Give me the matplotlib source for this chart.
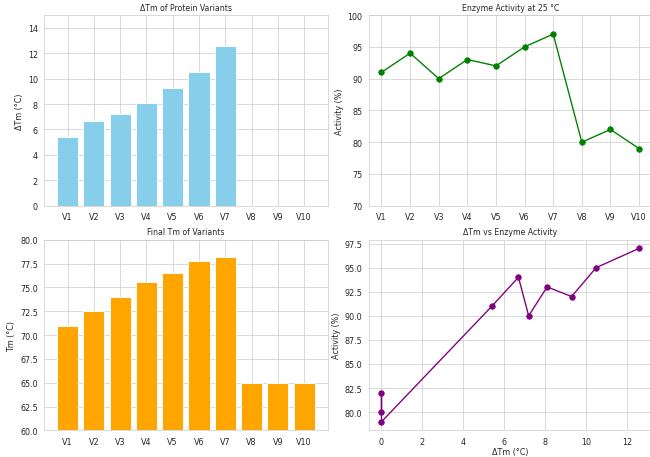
import matplotlib
matplotlib.use('Agg')
import matplotlib.pyplot as plt
import seaborn as sns

variants = ['V1', 'V2', 'V3', 'V4', 'V5', 'V6', 'V7', 'V8', 'V9', 'V10']
delta_tm = [5.4, 6.7, 7.2, 8.1, 9.3, 10.5, 12.6, 0, 0, 0]
activity = [91, 94, 90, 93, 92, 95, 97, 80, 82, 79]
final_tm = [71.0, 72.5, 74.0, 75.6, 76.5, 77.8, 78.2, 65.0, 65.0, 65.0]

sns.set_style('whitegrid')
plt.rcParams.update({
    'axes.titlesize': 8.6,
    'axes.labelsize': 8.8,
    'xtick.labelsize': 8.8,
    'ytick.labelsize': 8.8,
})

fig, axes = plt.subplots(2, 2, figsize=(10, 7.046), dpi=65)
fig.subplots_adjust(left=0.068, right=1.003, top=0.965, bottom=0.058,
                    wspace=0.145, hspace=0.178)

ax = axes[0, 0]
ax.bar(variants, delta_tm, color='skyblue')
ax.set_ylim(0, 15)
ax.set_title('ΔTm of Protein Variants')
ax.set_ylabel('ΔTm (°C)')

ax = axes[0, 1]
ax.plot(variants, activity, marker='o', color='green')
ax.set_ylim(70, 100)
ax.set_title('Enzyme Activity at 25 °C')
ax.set_ylabel('Activity (%)')

ax = axes[1, 0]
ax.bar(variants, final_tm, color='orange')
ax.set_ylim(60, 80)
ax.set_title('Final Tm of Variants')
ax.set_ylabel('Tm (°C)')

# sort by ΔTm so the line runs left to right
pairs = sorted(zip(delta_tm, activity), key=lambda p: p[0])
xs = [p[0] for p in pairs]
ys = [p[1] for p in pairs]
ax = axes[1, 1]
ax.plot(xs, ys, marker='o', color='purple')
ax.set_title('ΔTm vs Enzyme Activity')
ax.set_xlabel('ΔTm (°C)', labelpad=1)
ax.set_ylabel('Activity (%)')

plt.savefig('out.png')
